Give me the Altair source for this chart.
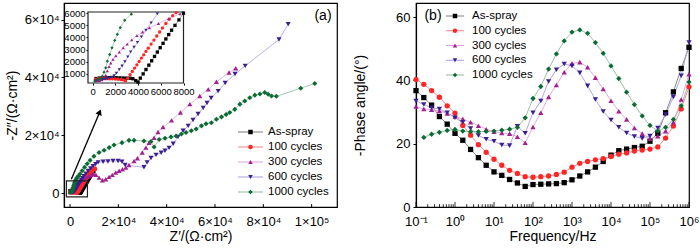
import altair as alt
import pandas as pd

SERIES = ["As-spray", "100 cycles", "300 cycles", "600 cycles", "1000 cycles"]
MARK_COLORS = ["#000000", "#ff2626", "#a3208e", "#3b1f8e", "#0b6b33"]
LINE_COLORS = ["#7a7a7a", "#f28080", "#dca0dc", "#a99ce0", "#8db99e"]
SHAPES = ["square", "circle", "triangle-up", "triangle-down", "diamond"]

# ---------------- Nyquist data (Z', -Z'') ----------------
AS_X = [300, 600, 900, 1200, 1500, 1800, 2100, 2400, 2700, 3000, 3300, 3550, 3800, 4000, 4200, 4450,
        4700, 4950, 5200, 5450, 5700, 5950, 6200, 6450, 6700, 6950, 7250, 7600, 8000, 8700, 9500]
AS_Y = [620, 660, 680, 680, 690, 690, 680, 670, 660, 650, 640, 600, 450, 330, 650, 1000,
        1360, 1720, 2080, 2440, 2800, 3160, 3520, 3880, 4240, 4600, 5000, 5450, 6000, 6900, 7800]

C100_X = [250, 500, 750, 1000, 1250, 1500, 1750, 2000, 2250, 2500, 2700, 2900, 3100, 3300, 3500, 3700,
          3900, 4100, 4300, 4500, 4700, 4900, 5150, 5400, 5650, 5900, 6150, 6450, 6750, 7050, 7350,
          8100, 9000, 10200]
C100_Y = [560, 600, 620, 620, 610, 600, 590, 580, 560, 540, 500, 420, 650, 930, 1200, 1480,
          1750, 2020, 2300, 2570, 2850, 3120, 3460, 3790, 4120, 4450, 4780, 5150, 5500, 5800, 6050,
          6900, 7700, 8500]

C300_X = [400, 600, 800, 1000, 1150, 1300, 1450, 1600, 1800, 2050, 2350, 2700, 3050, 3450, 3900, 4400,
          5000, 5800, 6700, 7700, 8700, 9700, 10700, 12000, 13400, 14800, 16150, 17500, 18900, 20300,
          21700, 23100, 24400, 26500, 27900, 29900, 31400, 32700, 34800, 36400, 38500, 42000, 45700,
          49600, 53700, 57200, 60600, 65800, 68600]
C300_Y = [420, 450, 520, 650, 900, 1250, 1600, 1900, 2200, 2500, 2800, 3150, 3450, 3800, 4150, 4450,
          4800, 5150, 5550, 5950, 6350, 6700, 6400, 5450, 4550, 4900, 5700, 6400, 7200, 7800,
          8300, 8900, 9800, 11200, 12100, 14100, 15800, 17500, 19200, 21200, 22900, 25200, 27900,
          30800, 33600, 35900, 38500, 41700, 43200]

C600_X = [300, 500, 700, 900, 1100, 1300, 1500, 1700, 1900, 2100, 2350, 2600, 2850, 3100, 3350, 3650,
          3950, 4300, 4700, 5150, 5700, 6500, 7450, 8500, 9500, 10600, 11600, 13700, 15700, 17800,
          19900, 21500, 22800, 30600, 31900, 33500, 35600, 37700, 39300, 41000, 42700, 44700, 46800,
          48900, 50900, 53000, 55100, 56700, 58400, 61300, 64200, 68300, 72500, 86500, 90300]
C600_Y = [450, 500, 520, 540, 560, 600, 650, 720, 850, 1050, 1350, 1650, 2000, 2400, 2800, 3200,
          3600, 4050, 4600, 5200, 5950, 6800, 7700, 8600, 9400, 10100, 10700, 10900, 11000, 11200,
          11200, 10900, 9800, 9000, 10700, 12200, 13300, 14000, 14700, 15700, 17100, 19500, 21600,
          23300, 25300, 27400, 29500, 31200, 32900, 35300, 38100, 41200, 44000, 53100, 58400]

C1000_X = [190, 480, 680, 860, 1010, 1160, 1300, 1510, 1710, 1950, 2180, 2440, 2830, 3410, 4100, 5000,
           6000, 7100, 8300, 9900, 12000, 14100, 16200, 18200, 21500, 24400, 26500, 30600, 33500,
           34800, 36900, 39300, 41800, 43900, 46100, 48000, 50200, 52200, 54400, 56300, 58500, 60600,
           62700, 64600, 66100, 68200, 70300, 72300, 74400, 76500, 78600, 80600, 82000, 83400, 85400,
           95500, 101300]
C1000_Y = [400, 540, 620, 810, 1140, 1500, 2050, 2600, 3150, 3760, 4260, 4810, 5420, 5920, 6700, 7800,
           9000, 10200, 11400, 12800, 14100, 14900, 15800, 16700, 17500, 18300, 18300, 18100, 17900,
           16000, 18600, 19000, 19500, 19800, 20500, 21000, 21600, 22200, 23300, 24000, 24400, 25600,
           26400, 27200, 27900, 29000, 30800, 31900, 33000, 33900, 34300, 34800, 34200, 33600, 33500,
           36300, 37900]

# ---------------- Bode phase data ----------------
FREQ = [0.1, 0.1585, 0.2512, 0.3981, 0.631, 1.0, 1.585, 2.512, 3.981, 6.31, 10, 15.85, 25.12, 39.81,
        63.1, 100, 158.5, 251.2, 398.1, 631, 1000, 1585, 2512, 3981, 6310, 1e4, 15849, 25119, 39811,
        63096, 1e5, 158489, 251189, 398107, 630957, 1e6]
PH_AS = [36.8, 34.6, 32.2, 28.6, 26.2, 23.3, 21.1, 18.2, 15.6, 13.2, 11.1, 10.0, 8.7, 7.6, 6.5, 7.1,
         7.2, 7.3, 7.4, 7.7, 8.6, 9.8, 11.1, 12.6, 14.4, 16.4, 17.8, 18.3, 18.8, 19.2, 20.8, 23.3,
         29.8, 36.4, 43.8, 50.5]
PH_100 = [40.3, 38.8, 36.8, 34.7, 32.0, 29.7, 25.8, 22.7, 19.7, 17.3, 15.1, 13.2, 11.6, 10.6, 9.6, 9.4,
          9.6, 9.8, 10.3, 11.0, 12.6, 13.8, 14.4, 14.9, 15.3, 16.0, 16.7, 17.1, 17.7, 18.0, 18.3, 19.0,
          21.8, 25.6, 31.0, 38.0]
PH_300 = [31.8, 31.0, 30.8, 30.4, 29.6, 28.6, 27.8, 26.8, 25.7, 24.6, 23.8, 23.4, 23.2, 22.2, 20.3,
          25.3, 29.8, 34.8, 38.6, 42.6, 45.4, 45.8, 44.2, 40.9, 37.3, 33.6, 30.3, 27.7, 25.0, 23.2,
          21.6, 22.4, 24.0, 26.8, 34.0, 42.0]
PH_600 = [33.5, 32.4, 31.4, 31.0, 29.8, 28.2, 26.8, 24.8, 22.6, 21.4, 20.8, 19.6, 19.4, 25.5, 23.3,
          29.8, 33.5, 39.7, 43.4, 45.2, 44.6, 42.4, 38.3, 34.0, 30.2, 27.5, 25.2, 23.4, 22.3, 21.7,
          22.4, 25.0, 29.2, 34.8, 41.5, 52.0]
FREQ_1000 = FREQ[1:]
PH_1000 = [22.0, 23.0, 23.6, 24.2, 24.5, 24.0, 23.8, 23.8, 23.9, 24.0, 24.3, 24.6, 25.2, 28.2, 34.3,
           38.1, 43.6, 48.4, 52.5, 55.3, 56.0, 54.9, 52.0, 48.6, 44.6, 40.6, 36.3, 32.4, 28.8, 25.8,
           24.0, 25.2, 27.7, 32.0, 39.5]

# axis / annotation helpers (extents)
MAIN_X_DOM = [-2500, 110500]
MAIN_Y_DOM = [-4700, 65700]
INS_X_DOM = [-400, 8000]
INS_Y_DOM = [250, 6100]
ZOOM_BOX = {"x": [-1500], "x2": [7200], "y": [-1200], "y2": [4300]}
ARROW = {"x": [540, 12260], "y": [4900, 28040]}
ARROW_HEAD = {"x": [12260], "y": [28040]}
MAIN_TICKS = [0, 20000, 40000, 60000, 80000, 100000]
BODE_MAJOR = [0.1, 1, 10, 100, 1e3, 1e4, 1e5, 1e6]
BODE_MINOR = [m * 10.0 ** e for e in range(-1, 6) for m in range(2, 10)]
LEGEND_ROW = [0, 1, 2, 3, 4]

W, H = 273, 204
FONT = "Liberation Sans"

nyq_rows = []
for s, xs, ys in zip(SERIES, [AS_X, C100_X, C300_X, C600_X, C1000_X],
                     [AS_Y, C100_Y, C300_Y, C600_Y, C1000_Y]):
    for i, (x, y) in enumerate(zip(xs, ys)):
        nyq_rows.append({"series": s, "i": i, "x": x, "y": y})
nyq = pd.DataFrame(nyq_rows)

bode_rows = []
for s, fs, ps in zip(SERIES, [FREQ, FREQ, FREQ, FREQ, FREQ_1000],
                     [PH_AS, PH_100, PH_300, PH_600, PH_1000]):
    for i, (f, p) in enumerate(zip(fs, ps)):
        bode_rows.append({"series": s, "i": i, "f": f, "p": p})
bode = pd.DataFrame(bode_rows)

leg_df = pd.DataFrame({"series": SERIES, "row": LEGEND_ROW})

STROKE = alt.Stroke("series:N", scale=alt.Scale(domain=SERIES, range=LINE_COLORS), legend=None)
COLOR = alt.Color("series:N", scale=alt.Scale(domain=SERIES, range=MARK_COLORS), legend=None)
SHAPE = alt.Shape("series:N", scale=alt.Scale(domain=SERIES, range=SHAPES), legend=None)


def legend_layer(x_line0, x_mark, x_line1, x_text, y_first, dy, msize, fs):
    ys = alt.Y("row:Q", scale=alt.Scale(domain=[0, 4], range=[y_first, y_first + 4 * dy],
                                        nice=False, zero=False), axis=None)
    base = alt.Chart(leg_df)
    lines = base.mark_rule(strokeWidth=1).encode(
        x=alt.value(x_line0), x2=alt.value(x_line1), y=ys, stroke=STROKE)
    pts = base.mark_point(filled=True, size=msize, opacity=1).encode(
        x=alt.value(x_mark), y="row:Q", color=COLOR, shape=SHAPE)
    txt = base.mark_text(align="left", baseline="middle", fontSize=fs, font=FONT, color="black").encode(
        x=alt.value(x_text), y="row:Q", text="series:N")
    return alt.layer(lines, pts, txt)


# ---------------- Panel (a) ----------------
sup_main = ("datum.value == 0 ? '0' : (datum.value >= 100000 ? format(datum.value/100000, 'd') + '×10⁵'"
            " : format(datum.value/10000, 'd') + '×10⁴')")
mx = alt.X("x:Q", scale=alt.Scale(domain=MAIN_X_DOM, nice=False, zero=False),
           axis=alt.Axis(values=MAIN_TICKS, labelExpr=sup_main, tickSize=0, labelPadding=8,
                         title="Z′/(Ω·cm²)", titlePadding=1))
my = alt.Y("y:Q", scale=alt.Scale(domain=MAIN_Y_DOM, nice=False, zero=False),
           axis=alt.Axis(values=[0, 20000, 40000, 60000], labelExpr=sup_main, tickSize=3,
                         labelPadding=2, title="-Z″/(Ω·cm²)", titlePadding=5))

main_lines = alt.Chart(nyq).mark_line(strokeWidth=0.8).encode(
    x=mx, y=my, stroke=STROKE, detail="series:N", order="i:Q")
main_pts = alt.Chart(nyq).mark_point(filled=True, size=26, opacity=1).encode(
    x="x:Q", y="y:Q", color=COLOR, shape=SHAPE)
box = alt.Chart(pd.DataFrame(ZOOM_BOX)).mark_rect(fillOpacity=0, stroke="#222", strokeWidth=1.2).encode(
    x="x:Q", x2="x2:Q", y="y:Q", y2="y2:Q")
arrow = alt.Chart(pd.DataFrame(ARROW)).mark_line(color="black", strokeWidth=1.3).encode(x="x:Q", y="y:Q")
arrow_head = alt.Chart(pd.DataFrame(ARROW_HEAD)).mark_point(
    shape="triangle-up", angle=22, filled=True, color="black", size=45, opacity=1).encode(x="x:Q", y="y:Q")
xticks_a = alt.Chart(pd.DataFrame({"x": MAIN_TICKS, "y0": [MAIN_Y_DOM[0]] * 6,
                                   "y1": [MAIN_Y_DOM[0] + 1000] * 6})).mark_rule(
    color="black", strokeWidth=1).encode(x="x:Q", y="y0:Q", y2="y1:Q")
label_a = alt.Chart(pd.DataFrame({"t": ["(a)"]})).mark_text(
    fontSize=14, font=FONT, color="black").encode(x=alt.value(259), y=alt.value(13), text="t:N")

main_layer = alt.layer(main_lines, main_pts, box, arrow, arrow_head, xticks_a, label_a)

# inset
ins_data = alt.Chart(nyq).transform_filter(
    f"datum.x <= {INS_X_DOM[1]} && datum.y <= {INS_Y_DOM[1]}")
ix = alt.X("x:Q", scale=alt.Scale(domain=INS_X_DOM, range=[24, 119.5], nice=False, zero=False),
           axis=alt.Axis(orient="bottom", offset=-(H - 80), values=[0, 2000, 4000, 6000, 8000],
                         format="d", labelFontSize=9.5, tickSize=2, labelPadding=1, title=None,
                         domain=False, labelOverlap=False, labelFlush=False))
iy = alt.Y("y:Q", scale=alt.Scale(domain=INS_Y_DOM, range=[80, 9], nice=False, zero=False),
           axis=alt.Axis(orient="left", offset=-24, values=[1000, 2000, 3000, 4000, 5000, 6000],
                         format="d", labelFontSize=9.5, tickSize=2, labelPadding=1, title=None,
                         domain=False, labelOverlap=False))
ins_box = alt.Chart(pd.DataFrame({"x": [INS_X_DOM[0]], "x2": [INS_X_DOM[1]],
                                  "y": [INS_Y_DOM[0]], "y2": [INS_Y_DOM[1]]})).mark_rect(
    fill="white", stroke="#222", strokeWidth=1.2).encode(x=ix, x2="x2:Q", y=iy, y2="y2:Q")
ins_lines = ins_data.mark_line(strokeWidth=0.7).encode(
    x="x:Q", y="y:Q", stroke=STROKE, detail="series:N", order="i:Q")
ins_pts = ins_data.mark_point(filled=True, size=11, opacity=1).encode(
    x="x:Q", y="y:Q", color=COLOR, shape=SHAPE)
inset_layer = alt.layer(ins_box, ins_lines, ins_pts)

leg_a = legend_layer(174, 186.5, 199, 204, 129, 15, 20, 11.5)

panel_a = alt.layer(main_layer, inset_layer, leg_a).resolve_scale(
    x="independent", y="independent").properties(width=W, height=H)

# ---------------- Panel (b) ----------------
sup_log = ("'10' + ['⁻¹','⁰','¹','²','³','⁴','⁵','⁶'][round(log(datum.value)/LN10) + 1]")
bx = alt.X("f:Q", scale=alt.Scale(type="log", domain=[0.1, 1e6], nice=False),
           axis=alt.Axis(values=BODE_MAJOR, labelExpr=sup_log, tickSize=0, labelPadding=8,
                         title="Frequency/Hz", titlePadding=1, labelFlush=False))
by = alt.Y("p:Q", scale=alt.Scale(domain=[0, 64.5], nice=False, zero=False),
           axis=alt.Axis(values=[0, 10, 20, 30, 40, 50, 60], tickSize=3, labelPadding=3,
                         title="-Phase angle/(°)", titlePadding=28))
b_lines = alt.Chart(bode).mark_line(strokeWidth=0.9).encode(
    x=bx, y=by, stroke=STROKE, detail="series:N", order="i:Q")
b_pts = alt.Chart(bode).mark_point(filled=True, size=28, opacity=1).encode(
    x="f:Q", y="p:Q", color=COLOR, shape=SHAPE)
ticks_df = pd.DataFrame({"f": BODE_MAJOR + BODE_MINOR,
                         "y0": [0.0] * (len(BODE_MAJOR) + len(BODE_MINOR)),
                         "y1": [1.6] * len(BODE_MAJOR) + [0.9] * len(BODE_MINOR)})
b_ticks = alt.Chart(ticks_df).mark_rule(color="black", strokeWidth=0.8).encode(
    x="f:Q", y="y0:Q", y2="y1:Q")
label_b = alt.Chart(pd.DataFrame({"t": ["(b)"]})).mark_text(
    fontSize=14, font=FONT, color="black").encode(x=alt.value(17), y=alt.value(13), text="t:N")
data_b = alt.layer(b_lines, b_pts, b_ticks, label_b)
leg_b = legend_layer(30, 39, 48, 56, 13, 14.75, 20, 11.5)
panel_b = alt.layer(data_b, leg_b).resolve_scale(y="independent").properties(width=W, height=H)

chart = alt.hconcat(panel_a, panel_b, spacing=14).configure(
    font=FONT, padding={"left": 4, "top": 2, "right": 0, "bottom": 0}, background="white"
).configure_view(stroke="black", strokeWidth=1.2).configure_axis(
    grid=False, domainColor="black", domainWidth=1.2, tickColor="black", labelColor="black",
    titleColor="black", labelFont=FONT, titleFont=FONT, labelFontSize=13, titleFontSize=14,
    titleFontWeight="normal")

chart.save("out.html", embed_options={"renderer": "svg", "actions": False})
